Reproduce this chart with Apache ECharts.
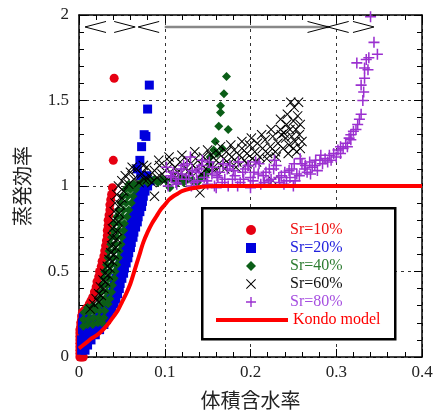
<!DOCTYPE html>
<html><head><meta charset="utf-8">
<script src="https://cdn.jsdelivr.net/npm/echarts@6/dist/echarts.min.js"></script>
<style>html,body{margin:0;padding:0;background:#fff}#c{width:437px;height:416px}</style>
</head><body><div id="c"></div>
<script>
const seriesNames = ['Sr=10%','Sr=20%','Sr=40%','Sr=60%','Sr=80%','Kondo model'];
const xTicks = [0, 0.1, 0.2, 0.3, 0.4];
const yTicks = [0, 0.5, 1, 1.5, 2];

const sr10 = [[0.001,0],[0.003,0],[0.005,0],[0.001,0.02],[0.004,0.02],[0.001,0.04],[0.001,0.06],[0.001,0.08],[0.001,0.1],[0.001,0.12],[0.001,0.14],[0.001,0.16],[0.002,0.18],[0.002,0.2],[0.003,0.22],[0.003,0.24],[0.004,0.26],[0.006,0.27],[0.008,0.28],[0.01,0.29],[0.012,0.31],[0.014,0.33],[0.016,0.35],[0.018,0.38],[0.02,0.41],[0.021,0.44],[0.023,0.47],[0.024,0.5],[0.026,0.53],[0.027,0.56],[0.029,0.59],[0.03,0.62],[0.031,0.65],[0.032,0.68],[0.033,0.71],[0.033,0.74],[0.034,0.77],[0.034,0.8],[0.035,0.83],[0.036,0.86],[0.036,0.89],[0.037,0.92],[0.038,0.95],[0.039,0.99],[0.04,1.15],[0.041,1.63]];

const sr20 = [[0.007,0.04],[0.003,0.04],[0.01,0.07],[0.003,0.07],[0.014,0.1],[0.007,0.1],[0.003,0.1],[0.019,0.13],[0.012,0.13],[0.005,0.13],[0.024,0.16],[0.017,0.16],[0.01,0.16],[0.004,0.16],[0.029,0.19],[0.022,0.19],[0.015,0.19],[0.008,0.19],[0.004,0.2],[0.032,0.22],[0.025,0.22],[0.018,0.22],[0.011,0.22],[0.005,0.23],[0.035,0.25],[0.028,0.25],[0.021,0.25],[0.038,0.28],[0.031,0.28],[0.024,0.28],[0.041,0.31],[0.034,0.31],[0.043,0.34],[0.036,0.34],[0.045,0.37],[0.038,0.37],[0.047,0.4],[0.04,0.4],[0.048,0.43],[0.041,0.43],[0.05,0.46],[0.043,0.46],[0.052,0.49],[0.045,0.49],[0.053,0.52],[0.046,0.52],[0.055,0.55],[0.048,0.55],[0.057,0.58],[0.05,0.58],[0.058,0.61],[0.051,0.61],[0.06,0.64],[0.053,0.64],[0.061,0.67],[0.054,0.67],[0.063,0.7],[0.056,0.7],[0.064,0.73],[0.057,0.73],[0.066,0.76],[0.059,0.76],[0.068,0.79],[0.061,0.79],[0.069,0.82],[0.062,0.82],[0.071,0.85],[0.064,0.85],[0.073,0.88],[0.066,0.88],[0.074,0.91],[0.067,0.91],[0.075,0.94],[0.068,0.94],[0.077,0.97],[0.07,0.97],[0.08,1.0],[0.073,1.0],[0.083,1.03],[0.076,1.03],[0.079,1.06],[0.072,1.06],[0.068,1.1],[0.071,1.15],[0.073,1.23],[0.076,1.30],[0.078,1.29],[0.080,1.45],[0.082,1.59]];

const sr40 = [[0.005,0.18],[0.01,0.19],[0.016,0.19],[0.022,0.2],[0.027,0.2],[0.005,0.22],[0.011,0.22],[0.017,0.23],[0.023,0.23],[0.029,0.23],[0.006,0.26],[0.012,0.26],[0.018,0.27],[0.024,0.27],[0.03,0.27],[0.01,0.29],[0.016,0.3],[0.022,0.3],[0.028,0.31],[0.034,0.31],[0.036,0.34],[0.03,0.34],[0.024,0.34],[0.038,0.38],[0.032,0.38],[0.026,0.38],[0.039,0.42],[0.033,0.42],[0.027,0.42],[0.041,0.46],[0.035,0.46],[0.029,0.46],[0.042,0.5],[0.036,0.5],[0.03,0.5],[0.044,0.54],[0.038,0.54],[0.032,0.54],[0.046,0.58],[0.04,0.58],[0.034,0.58],[0.047,0.62],[0.041,0.62],[0.035,0.62],[0.049,0.66],[0.043,0.66],[0.037,0.66],[0.05,0.7],[0.044,0.7],[0.038,0.7],[0.052,0.74],[0.046,0.74],[0.04,0.74],[0.053,0.78],[0.047,0.78],[0.041,0.78],[0.056,0.82],[0.05,0.82],[0.044,0.82],[0.058,0.86],[0.052,0.86],[0.046,0.86],[0.061,0.9],[0.055,0.9],[0.049,0.9],[0.063,0.94],[0.057,0.94],[0.051,0.94],[0.066,0.98],[0.06,0.98],[0.054,0.98],[0.07,1.01],[0.064,1.01],[0.058,1.01],[0.075,1.03],[0.08,1.02],[0.083,1.03],[0.088,1.04],[0.092,1.02],[0.097,1.04],[0.102,1.03],[0.106,0.99],[0.11,1.04],[0.115,1.02],[0.12,1.05],[0.122,1.02],[0.127,1.04],[0.132,1.03],[0.138,1.02],[0.142,1.05],[0.147,1.06],[0.15,1.09],[0.153,1.13],[0.153,1.17],[0.157,1.21],[0.161,1.19],[0.159,1.26],[0.167,1.22],[0.163,1.35],[0.174,1.33],[0.165,1.43],[0.165,1.47],[0.169,1.54],[0.172,1.64]];

const sr60 = [[0.013,0.28],[0.017,0.31],[0.02,0.34],[0.023,0.37],[0.025,0.41],[0.028,0.45],[0.03,0.49],[0.033,0.53],[0.035,0.57],[0.037,0.61],[0.038,0.65],[0.039,0.7],[0.039,0.75],[0.04,0.8],[0.041,0.85],[0.042,0.9],[0.044,0.95],[0.046,1.0],[0.023,0.32],[0.026,0.36],[0.029,0.4],[0.031,0.44],[0.034,0.48],[0.036,0.52],[0.039,0.56],[0.041,0.6],[0.043,0.64],[0.044,0.69],[0.045,0.74],[0.046,0.79],[0.047,0.84],[0.048,0.89],[0.05,0.93],[0.052,0.97],[0.05,1.03],[0.054,1.06],[0.058,1.01],[0.06,1.08],[0.064,1.04],[0.067,1.1],[0.07,1.02],[0.073,1.07],[0.076,1.04],[0.079,1.11],[0.082,1.06],[0.085,1.02],[0.088,1.09],[0.088,0.94],[0.091,1.05],[0.094,1.12],[0.097,1.07],[0.1,1.03],[0.103,1.1],[0.106,1.14],[0.109,1.06],[0.112,1.11],[0.115,1.08],[0.118,1.14],[0.121,1.05],[0.124,1.1],[0.127,1.15],[0.13,1.07],[0.133,1.12],[0.136,1.16],[0.139,1.09],[0.141,0.96],[0.142,1.13],[0.145,1.17],[0.148,1.1],[0.151,1.14],[0.154,1.18],[0.157,1.11],[0.16,1.15],[0.163,1.19],[0.166,1.12],[0.169,1.16],[0.172,1.2],[0.175,1.13],[0.178,1.17],[0.181,1.21],[0.184,1.14],[0.187,1.18],[0.19,1.22],[0.193,1.15],[0.196,1.19],[0.199,1.24],[0.202,1.16],[0.205,1.2],[0.208,1.25],[0.211,1.17],[0.214,1.22],[0.217,1.27],[0.22,1.19],[0.223,1.23],[0.226,1.03],[0.226,1.29],[0.229,1.2],[0.232,1.25],[0.235,1.33],[0.235,1.39],[0.238,1.22],[0.239,1.31],[0.241,1.28],[0.242,1.36],[0.243,1.42],[0.245,1.24],[0.246,1.33],[0.247,1.49],[0.248,1.29],[0.25,1.38],[0.251,1.46],[0.252,1.26],[0.253,1.33],[0.255,1.41],[0.256,1.49],[0.257,1.3],[0.258,1.22],[0.258,1.36],[0.26,1.26],[0.105,1.17],[0.113,1.05],[0.12,1.18],[0.128,1.09],[0.135,1.2],[0.143,1.07],[0.15,1.21],[0.158,1.09],[0.165,1.23],[0.17,1.1],[0.177,1.24],[0.183,1.11],[0.19,1.26],[0.196,1.13],[0.201,1.28],[0.207,1.14],[0.213,1.3],[0.219,1.16],[0.224,1.33],[0.23,1.17],[0.236,1.3],[0.244,1.19],[0.25,1.22],[0.254,1.2],[0.093,1.15],[0.075,1.12],[0.062,1.11],[0.08,1.04]];

const sr80 = [[0.104,1.0],[0.11,1.08],[0.116,1.04],[0.122,1.12],[0.128,1.06],[0.134,1.02],[0.14,1.1],[0.146,1.05],[0.152,1.14],[0.158,1.0],[0.164,1.08],[0.17,1.04],[0.176,1.12],[0.182,1.06],[0.188,1.02],[0.194,1.1],[0.2,1.05],[0.206,1.14],[0.212,1.01],[0.218,1.08],[0.224,1.04],[0.23,1.12],[0.236,1.06],[0.242,1.03],[0.248,1.1],[0.254,1.07],[0.26,1.13],[0.266,1.08],[0.272,1.11],[0.278,1.09],[0.107,1.06],[0.113,1.02],[0.119,1.1],[0.125,1.04],[0.131,1.0],[0.137,1.08],[0.143,1.12],[0.149,1.03],[0.155,1.07],[0.161,1.06],[0.167,1.02],[0.173,1.1],[0.179,1.04],[0.185,1.0],[0.191,1.08],[0.197,1.12],[0.203,1.03],[0.209,1.07],[0.215,1.06],[0.221,1.03],[0.227,1.1],[0.233,1.05],[0.239,1.01],[0.245,1.09],[0.251,1.13],[0.257,1.06],[0.263,1.1],[0.269,1.14],[0.275,1.12],[0.281,1.15],[0.102,1.11],[0.108,1.05],[0.114,1.01],[0.12,1.07],[0.126,1.13],[0.132,1.09],[0.138,1.03],[0.144,1.15],[0.15,1.01],[0.156,1.11],[0.162,1.05],[0.168,1.13],[0.174,1.0],[0.18,1.09],[0.186,1.14],[0.192,1.04],[0.198,1.12],[0.204,1.08],[0.21,1.13],[0.216,1.02],[0.222,1.1],[0.228,1.15],[0.234,1.02],[0.24,1.08],[0.246,1.05],[0.252,1.03],[0.258,1.16],[0.264,1.12],[0.27,1.07],[0.276,1.15],[0.282,1.18],[0.13,1.17],[0.2,0.99],[0.16,0.99],[0.25,1.0],[0.284,1.13],[0.287,1.16],[0.29,1.14],[0.292,1.18],[0.294,1.15],[0.297,1.19],[0.3,1.17],[0.302,1.21],[0.305,1.19],[0.305,1.23],[0.308,1.22],[0.311,1.25],[0.313,1.23],[0.315,1.28],[0.317,1.27],[0.317,1.3],[0.32,1.32],[0.323,1.33],[0.325,1.36],[0.327,1.39],[0.329,1.42],[0.331,1.5],[0.332,1.55],[0.329,1.59],[0.333,1.63],[0.337,1.68],[0.333,1.69],[0.324,1.72],[0.335,1.74],[0.338,1.75],[0.348,1.77],[0.344,1.84],[0.340,1.99]];

const kondo = [[0,0.05],[0.005,0.07],[0.01,0.09],[0.015,0.11],[0.02,0.125],[0.025,0.145],[0.03,0.17],[0.035,0.2],[0.04,0.235],[0.045,0.27],[0.05,0.32],[0.055,0.37],[0.06,0.43],[0.065,0.51],[0.07,0.59],[0.075,0.67],[0.08,0.73],[0.085,0.78],[0.09,0.82],[0.095,0.86],[0.1,0.89],[0.105,0.92],[0.11,0.94],[0.115,0.955],[0.12,0.97],[0.13,0.985],[0.14,0.993],[0.15,0.997],[0.16,1.0],[0.4,1.0]];

// range arrows at the top: [from, to, y]
const arrows = [[0.007,0.0655,1.93],[0.069,0.291,1.93],[0.290,0.344,1.93]];
const arrowShafts = [[0.1,0.291,1.93]];

const serif = 'Liberation Serif, Times New Roman, serif';
const cjk = 'Noto Sans CJK JP, sans-serif';
const colors = ['#e60012','#0000dd','#0b5e17','#000000','#9b30d0','#ff0000'];
const textColors = ['#ee1111','#2222dd','#2e7d32','#111111','#a64fe0','#ff0000'];

const crossPath = 'path://M0,0.7L0.7,0L5,4.3L9.3,0L10,0.7L5.7,5L10,9.3L9.3,10L5,5.7L0.7,10L0,9.3L4.3,5Z';
const plusPath = 'path://M4.3,0H5.7V4.3H10V5.7H5.7V10H4.3V5.7H0V4.3H4.3Z';
const symbols = ['circle','rect','diamond',crossPath,plusPath];
const sizes = [9,9,9,10,11];
const datas = [sr10,sr20,sr40,sr60,sr80];

const chart = echarts.init(document.getElementById('c'), null, {renderer:'canvas'});

function axisCommon(show){
  return {
    min:0,
    axisLine:{show:true,onZero:false,lineStyle:{color:'#000',width:1.5}},
    axisTick:{show:true,inside:true,length:8,lineStyle:{color:'#000',width:1}},
    minorTick:{show:true,splitNumber:5,length:5,lineStyle:{color:'#000',width:1}},
    axisLabel:{show:show,color:'#222',fontFamily:serif,fontSize:17},
  };
}

const series = datas.map((d,i)=>({
  name: seriesNames[i], type:'scatter', data:d, symbol:symbols[i], symbolSize:sizes[i],
  itemStyle:{color:colors[i], opacity:1}, silent:true, z:2+i*0.01
}));
series.push({name:'Kondo model', type:'line', data:kondo, symbol:'none', smooth:0.3,
  lineStyle:{color:'#ff0000', width:4}, itemStyle:{color:'#ff0000'}, z:3, silent:true});
series.push({type:'custom', data:arrowShafts, silent:true, z:4,
  renderItem:(p,api)=>{const a=api.coord([api.value(0),api.value(2)]);const b=api.coord([api.value(1),api.value(2)]);
    return {type:'line',shape:{x1:a[0],y1:a[1],x2:b[0],y2:b[1]},style:{stroke:'#888',lineWidth:2.5}};}});
series.push({type:'custom', data:arrows, silent:true, z:5,
  renderItem:(p,api)=>{const a=api.coord([api.value(0),api.value(2)]);const b=api.coord([api.value(1),api.value(2)]);
    const L=21,H=5.5;const st={stroke:'#000',fill:null,lineWidth:1};
    return {type:'group',children:[
      {type:'polyline',shape:{points:[[a[0]+L,a[1]-H],[a[0],a[1]],[a[0]+L,a[1]+H]]},style:st},
      {type:'polyline',shape:{points:[[b[0]-L,b[1]-H],[b[0],b[1]],[b[0]-L,b[1]+H]]},style:st}
    ]};}});

chart.setOption({
  animation:false,
  backgroundColor:'#fff',
  grid:{left:79,right:15,top:15,bottom:59},
  xAxis:[
    Object.assign(axisCommon(true),{type:'value',position:'bottom',max:xTicks[xTicks.length-1],interval:0.1,
      axisLabel:{show:true,color:'#222',fontFamily:serif,fontSize:17,margin:7},
      splitLine:{show:true,lineStyle:{color:'#333',type:[3,4],width:1}},
      name:'体積含水率',nameLocation:'middle',nameGap:33,
      nameTextStyle:{fontFamily:cjk,fontSize:20,color:'#222'}}),
    Object.assign(axisCommon(false),{type:'value',position:'top',max:0.4,interval:0.1,splitLine:{show:false}})
  ],
  yAxis:[
    Object.assign(axisCommon(true),{type:'value',position:'left',max:yTicks[yTicks.length-1],interval:0.5,
      axisLabel:{show:true,color:'#222',fontFamily:serif,fontSize:17,margin:10},
      splitLine:{show:true,lineStyle:{color:'#333',type:[3,4],width:1}},
      name:'蒸発効率',nameLocation:'middle',nameGap:47,
      nameTextStyle:{fontFamily:cjk,fontSize:20,color:'#222'}}),
    Object.assign(axisCommon(false),{type:'value',position:'right',max:2,interval:0.5,splitLine:{show:false}})
  ],
  graphic:[{type:'rect',left:201,top:207,shape:{width:193,height:131},
    style:{fill:'#fff',stroke:'#000',lineWidth:2.5},z:50}],
  legend:[
    {orient:'vertical',left:241,top:216,itemWidth:10,itemHeight:10,itemGap:0,z:60,
     selectedMode:false,
     textStyle:{fontFamily:serif,fontSize:16,lineHeight:18,padding:[0,0,0,29]},
     data:seriesNames.slice(0,5).map((n,i)=>({name:n,textStyle:{color:textColors[i]}}))},
    {orient:'vertical',left:211,top:306,itemWidth:72,itemHeight:4,itemGap:0,z:60,
     selectedMode:false,
     textStyle:{fontFamily:serif,fontSize:16,lineHeight:18},
     data:[{name:'Kondo model',icon:'rect',textStyle:{color:textColors[5]}}]}
  ],
  series:series
});
</script></body></html>
